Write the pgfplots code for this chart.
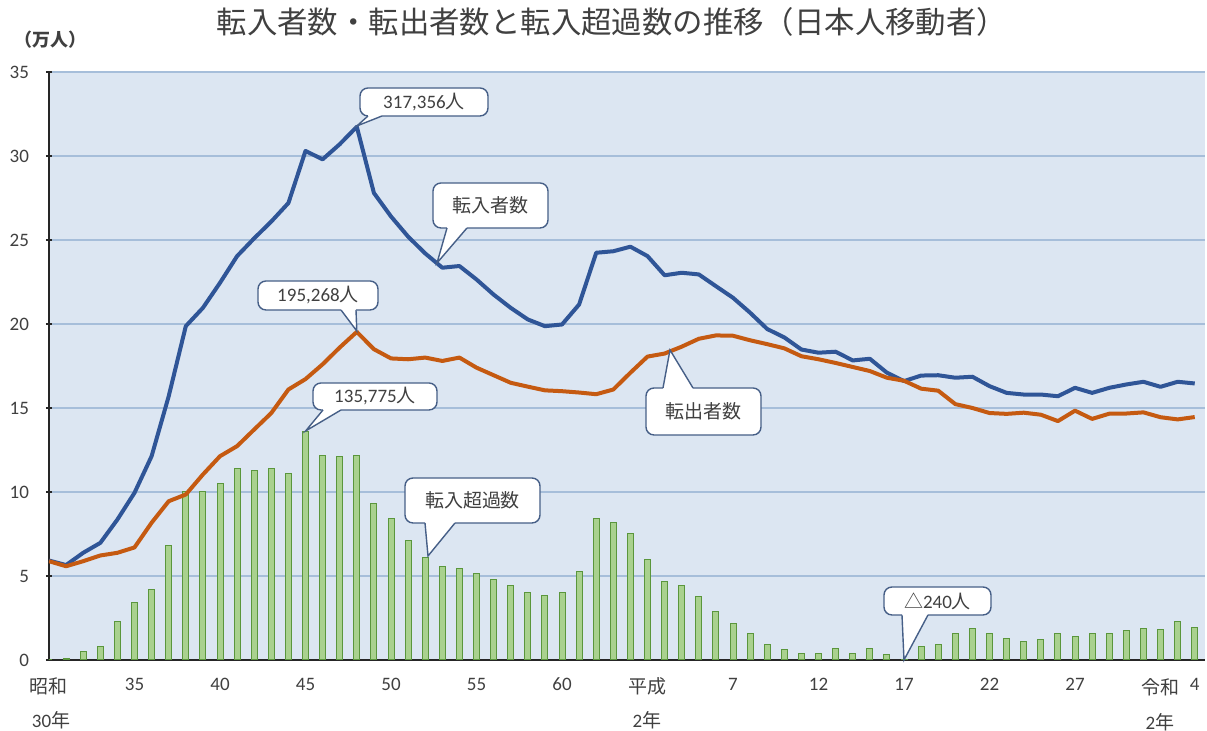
\documentclass[border=0pt]{standalone}
\usepackage{fontspec}
\setmainfont{Carlito}
\newfontfamily\jp{Noto Sans CJK JP}
\usepackage{pgfplots}
\pgfplotsset{compat=1.18}
\usepackage{pgfplotstable}
\usetikzlibrary{calc}

\definecolor{bgblue}{RGB}{220,230,242}
\definecolor{gridc}{RGB}{166,190,218}
\definecolor{inblue}{RGB}{47,85,151}
\definecolor{outorange}{RGB}{197,90,17}
\definecolor{barfill}{RGB}{169,209,142}
\definecolor{baredge}{RGB}{90,150,60}
\definecolor{txt}{RGB}{64,64,64}
\definecolor{callb}{RGB}{70,95,135}

\pgfplotstableread{
year in out net
1955 5.92 5.88 0.04
1956 5.65 5.58 0.07
1957 6.38 5.88 0.5
1958 6.97 6.22 0.8
1959 8.36 6.38 2.3
1960 9.95 6.7 3.4
1961 12.13 8.17 4.2
1962 15.7 9.45 6.8
1963 19.87 9.85 10.0
1964 20.96 11.04 10.0
1965 22.45 12.13 10.5
1966 24.04 12.73 11.4
1967 25.1 13.72 11.3
1968 26.1 14.7 11.4
1969 27.2 16.1 11.1
1970 30.3 16.72 13.58
1971 29.8 17.6 12.2
1972 30.7 18.6 12.1
1973 31.74 19.53 12.2
1974 27.8 18.5 9.3
1975 26.4 17.95 8.4
1976 25.2 17.9 7.1
1977 24.2 18.0 6.1
1978 23.35 17.8 5.55
1979 23.45 18.0 5.45
1980 22.65 17.4 5.15
1981 21.75 16.95 4.8
1982 20.96 16.5 4.45
1983 20.27 16.27 4.0
1984 19.87 16.05 3.85
1985 19.97 16.0 4.0
1986 21.16 15.92 5.25
1987 24.24 15.82 8.4
1988 24.33 16.1 8.2
1989 24.6 17.1 7.5
1990 24.04 18.06 6.0
1991 22.9 18.24 4.65
1992 23.05 18.65 4.45
1993 22.95 19.12 3.8
1994 22.25 19.32 2.9
1995 21.56 19.3 2.2
1996 20.67 19.03 1.6
1997 19.7 18.8 0.9
1998 19.2 18.55 0.6
1999 18.48 18.08 0.4
2000 18.29 17.9 0.4
2001 18.35 17.68 0.7
2002 17.83 17.44 0.4
2003 17.93 17.2 0.7
2004 17.1 16.8 0.3
2005 16.6 16.62 -0.024
2006 16.93 16.15 0.8
2007 16.95 16.03 0.9
2008 16.8 15.23 1.55
2009 16.86 15.0 1.85
2010 16.3 14.7 1.55
2011 15.9 14.65 1.27
2012 15.8 14.72 1.1
2013 15.8 14.6 1.2
2014 15.7 14.22 1.55
2015 16.2 14.84 1.4
2016 15.9 14.35 1.55
2017 16.2 14.66 1.55
2018 16.4 14.67 1.73
2019 16.56 14.74 1.85
2020 16.26 14.45 1.83
2021 16.56 14.32 2.3
2022 16.46 14.46 1.95
}\data

% #1 sw corner, #2 ne corner, #3 tail base 1, #4 tail base 2, #5 tip, #6 text
\newcommand\callbox[6]{%
  \draw[callb, line width=0.7pt, fill=white, rounded corners=4pt] #1 rectangle #2;
  \fill[white] #3 -- #5 -- #4 -- cycle;
  \draw[white, line width=1.3pt] #3 -- #4;
  \draw[callb, line width=0.7pt, line join=miter] #3 -- #5 -- #4;
  \node[text=txt, font=\fontsize{9.5}{11}\selectfont, inner sep=0pt] at ($#1!0.5!#2$) {#6};
}

\begin{document}
\begin{tikzpicture}
\begin{axis}[
  at={(0,0)}, anchor=south west,
  scale only axis, width=578pt, height=294pt,
  xmin=1955, xmax=2022.6, ymin=0, ymax=35,
  axis x line=bottom, axis y line=left,
  axis line style={-, line width=0.8pt, black!85},
  axis background/.style={fill=bgblue},
  ymajorgrids, grid style={gridc, line width=0.7pt},
  ytick={0,5,...,35},
  xtick={1955,1960,...,2020,2022},
  xticklabels={{\jp 昭和},35,40,45,50,55,60,{\jp 平成},7,12,17,22,27,{\jp 令和},4},
  xtick align=inside, ytick align=center,
  major tick length=3pt,
  tick style={black!85, line width=0.7pt},
  tick label style={font=\fontsize{9.5}{11}\selectfont, text=txt},
  xticklabel style={yshift=-5.5pt},
  yticklabel style={xshift=-5pt},
  /pgf/number format/assume math mode=true,
]
\addplot[ybar, bar width=3pt, bar shift=0pt, fill=barfill, draw=baredge, line width=0.5pt] table[x=year,y=net]{\data};
\addplot[inblue, line width=2pt, line join=round] table[x=year,y=in]{\data};
\addplot[outorange, line width=2pt, line join=round] table[x=year,y=out]{\data};
\end{axis}

% title and unit
\node[text=txt, font=\jp\fontsize{15.2}{18}\selectfont] at (281.5pt,319pt) {転入者数・転出者数と転入超過数の推移（日本人移動者）};
\node[text=txt, font=\jp\bfseries\fontsize{9}{11}\selectfont] at (1pt,310pt) {（万人）};

% second row of x labels
\node[text=txt, font=\fontsize{9.5}{11}\selectfont] at (1pt,-30pt) {30{\jp 年}};
\node[text=txt, font=\fontsize{9.5}{11}\selectfont] at (299pt,-30pt) {2{\jp 年}};
\node[text=txt, font=\fontsize{9.5}{11}\selectfont] at (555.5pt,-31pt) {2{\jp 年}};

% callouts
\callbox{(155.5pt,272pt)}{(219.5pt,286pt)}{(159.5pt,272pt)}{(166.5pt,272pt)}{(153.9pt,267pt)}{317,356{\jp 人}}
\callbox{(192pt,216pt)}{(249.5pt,238.5pt)}{(199pt,216pt)}{(209pt,216pt)}{(194pt,198.5pt)}{{\jp 転入者数}}
\callbox{(104.5pt,175pt)}{(164.5pt,189.5pt)}{(146pt,175pt)}{(153.5pt,175pt)}{(153.9pt,164.5pt)}{195,268{\jp 人}}
\callbox{(132pt,125pt)}{(194pt,138.5pt)}{(137pt,125pt)}{(146pt,125pt)}{(128.3pt,114.5pt)}{135,775{\jp 人}}
\callbox{(178pt,68.5pt)}{(245.5pt,91pt)}{(188pt,68.5pt)}{(203pt,68.5pt)}{(189.5pt,52pt)}{{\jp 転入超過数}}
\callbox{(298.5pt,112.5pt)}{(356pt,136pt)}{(307pt,136pt)}{(322pt,136pt)}{(310.5pt,155pt)}{{\jp 転出者数}}
\callbox{(417.5pt,22.5pt)}{(471pt,36.5pt)}{(426.5pt,22.5pt)}{(439.5pt,22.5pt)}{(427.5pt,0pt)}{{\jp △}240{\jp 人}}

\pgfresetboundingbox
\path[use as bounding box] (-24.5pt,-35.5pt) rectangle (579pt,330pt);
\end{tikzpicture}
\end{document}
